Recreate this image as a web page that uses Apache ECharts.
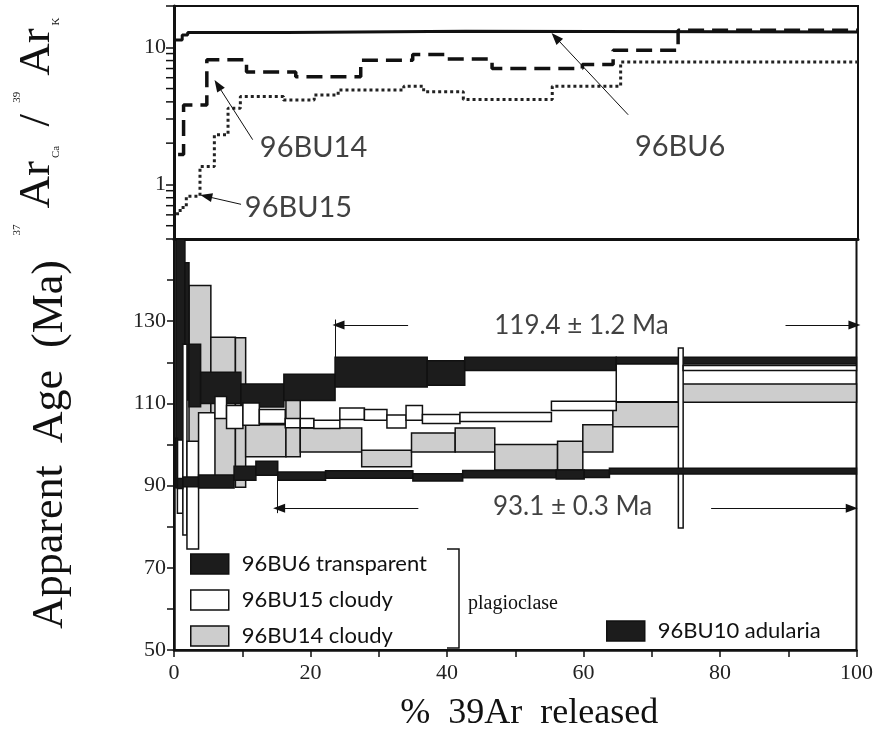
<!DOCTYPE html>
<html><head><meta charset="utf-8">
<script src="https://cdn.jsdelivr.net/npm/echarts@6/dist/echarts.min.js"></script>
<style>html,body{margin:0;padding:0;background:#fff}#c{width:876px;height:737px}</style>
</head><body><div id="c"></div>
<script>
// ---------- Top panel: 37ArCa/39ArK step spectra ----------
const bu6RatioCum = [0.2, 1.2, 2.0, 16.4, 42.6, 100];
const bu6Ratio    = [11.3, 12.3, 12.8, 13.1, 12.9];
const bu14RatioCum = [0.6, 1.4, 4.8, 10.6, 17.8, 27.3, 34.9, 39.8, 46.5, 59.7, 64.2, 73.7, 100];
const bu14Ratio    = [1.65, 3.8, 8.1, 6.6, 6.1, 8.05, 8.85, 8.2, 7.0, 7.5, 9.5, 13.3];
const bu15RatioCum = [0.3, 0.9, 1.8, 3.8, 5.9, 7.9, 9.7, 16.0, 20.5, 24.0, 33.6, 36.5, 42.3, 55.3, 65.3, 100];
const bu15Ratio    = [0.61, 0.68, 0.82, 1.35, 2.3, 3.6, 4.37, 4.13, 4.49, 4.88, 5.2, 4.74, 4.17, 5.2, 7.8];
const ratioMinorTicks = [0.5, 0.6, 0.7, 0.8, 0.9, 2, 3, 4, 5, 6, 7, 8, 9];
const ratioLabels = ['96BU14', '96BU15', '96BU6'];
const ratioLabelPos = [[20.4, 1.85], [18.2, 0.68], [74.0, 1.88]];
const ratioArrows = [[[11.5, 2.12], [6.4, 5.3]], [[9.8, 0.716], [4.7, 0.819]], [[66.4, 3.22], [55.8, 11.8]]];

// ---------- Bottom panel: age spectra (cumulative % 39Ar, age, ±err Ma) ----------
const bu6Cum = [0.3, 1.6, 2.2, 3.9, 9.8, 16.1, 23.6, 37.1, 42.6, 64.8, 100];
const bu6Age = [127, 127.5, 116.8, 113.8, 111.9, 113.9, 117.6, 117.4, 119.6, 120.4];
const bu6Err = [26, 16.7, 7.6, 3.8, 2.8, 3.2, 3.6, 3.0, 1.6, 0.8];

const bu15Cum = [0.5, 1.3, 1.9, 3.6, 6.0, 7.7, 10.1, 12.5, 16.3, 18.5, 20.5, 24.3, 27.9, 31.2, 34.0, 36.4, 41.9, 55.3, 64.8, 73.9, 74.6, 100];
const bu15Age = [92.2, 101.2, 87.7, 100.0, 109.0, 106.7, 107.4, 106.8, 105.2, 105.2, 104.9, 107.5, 107.2, 105.6, 107.7, 106.2, 106.7, 109.4, 115.0, 101.6, 118.6];
const bu15Err = [8.9, 23.2, 13.1, 7.7, 2.7, 2.8, 2.7, 1.7, 1.1, 1.1, 1.0, 1.4, 1.3, 1.6, 1.8, 1.1, 1.1, 1.1, 4.6, 21.9, 0.6];

const bu14Cum = [2.2, 5.4, 9.0, 10.5, 16.4, 18.5, 27.5, 34.8, 41.2, 47.0, 56.2, 59.9, 64.3, 74.0, 100];
const bu14Age = [119.6, 109.2, 107.8, 100.9, 103.9, 101.1, 96.6, 100.5, 101.1, 96.9, 97.3, 101.5, 107.3, 112.5];
const bu14Err = [19.1, 16.9, 18.2, 3.9, 6.9, 2.9, 2.0, 2.3, 2.9, 3.1, 3.5, 3.3, 3.0, 2.2];

const bu10Cum = [0.2, 0.5, 1.3, 3.6, 8.8, 12.0, 15.2, 22.2, 35.0, 42.3, 56.0, 60.1, 63.8, 100];
const bu10Age = [95.5, 90.5, 90.9, 91.0, 93.0, 94.2, 92.3, 92.7, 92.0, 92.8, 92.7, 92.9, 93.5];
const bu10Err = [6.0, 1.2, 1.2, 1.6, 1.7, 1.7, 1.0, 0.9, 0.9, 0.9, 1.1, 0.9, 0.7];

const plateauLabels = ['119.4 ± 1.2 Ma', '93.1 ± 0.3 Ma'];
const plateauLabelPos = [[59.7, 129.0], [58.4, 85.0]];
const plateauArrows = [[[34.3, 129.1], [24.1, 129.1]], [[89.6, 129.1], [99.7, 129.1]],
                       [[35.8, 84.5], [15.4, 84.5]], [[78.7, 84.5], [99.3, 84.5]]];
const plateauBounds = [[[23.6, 130.4], [23.6, 121.2]], [[15.1, 93.5], [15.1, 83.3]]];

const ageTicksLabelled = [50, 70, 90, 110, 130];
const xTicksLabelled = [0, 20, 40, 60, 80, 100];

// ---------- helpers ----------
function stepPoints(cum, vals) {
  const pts = vals.map((v, i) => [cum[i], v]);
  pts.push([cum[cum.length - 1], vals[vals.length - 1]]);
  return pts;
}
function boxes(cum, age, err) {
  return age.map((a, i) => [cum[i], cum[i + 1], a - err[i], a + err[i]]);
}
function boxRenderer(fill) {
  return function (params, api) {
    const a = api.coord([api.value(0), api.value(3)]);
    const b = api.coord([api.value(1), api.value(2)]);
    const cs = params.coordSys;
    const r = echarts.graphic.clipRectByRect(
      { x: a[0], y: a[1], width: b[0] - a[0], height: b[1] - a[1] },
      { x: cs.x, y: cs.y, width: cs.width, height: cs.height });
    if (!r) return null;
    return { type: 'rect', shape: r, style: { fill: fill, stroke: '#111', lineWidth: 1.5 } };
  };
}
const BLACK = '#1c1c1c', GRAY = '#cdcdcd', WHITE = '#ffffff';
const serif = 'Liberation Serif', sans = 'Lato';

function arrowLines(list, withArrow) {
  return list.map(p => [
    { coord: p[0], symbol: 'none' },
    { coord: p[1], symbol: withArrow ? 'triangle' : 'none' }
  ]);
}

const chart = echarts.init(document.getElementById('c'), null, { renderer: 'canvas' });
const option = {
  animation: false,
  backgroundColor: '#fff',
  grid: [
    { left: 174, right: 18, top: 6, height: 233, show: true, borderColor: '#111', borderWidth: 2 },
    { left: 174, right: 18, top: 239, height: 414, show: true, borderColor: '#111', borderWidth: 2 }
  ],
  xAxis: [
    { gridIndex: 0, type: 'value', min: 0, max: 100, interval: 10,
      axisLine: { show: true, lineStyle: { color: '#111', width: 3 } },
      axisTick: { show: false }, axisLabel: { show: false }, splitLine: { show: false } },
    { gridIndex: 1, type: 'value', min: 0, max: 100, interval: 10,
      name: '%  39Ar  released', nameLocation: 'middle', nameGap: 46,
      nameTextStyle: { fontFamily: serif, fontSize: 36, color: '#111', padding: [0, 0, 0, 28] },
      axisLine: { show: true, lineStyle: { color: '#111', width: 2.5 } },
      axisTick: { show: true, inside: false, length: 7, lineStyle: { color: '#111', width: 1.5 } },
      axisLabel: { fontFamily: serif, fontSize: 22, color: '#222', margin: 12,
        formatter: v => xTicksLabelled.includes(v) ? String(v) : '' },
      splitLine: { show: false } }
  ],
  yAxis: [
    { gridIndex: 0, type: 'log', logBase: 10, min: 0.4, max: 20,
      name: '{s|37}{a|Ar}{b|Ca}{a| / }{s|39}{a|Ar}{b|K}',
      nameLocation: 'middle', nameGap: 112, nameRotate: 90,
      nameTextStyle: { color: '#111', rich: {
        a: { fontFamily: serif, fontSize: 45, lineHeight: 50, color: '#111' },
        s: { fontFamily: serif, fontSize: 11, verticalAlign: 'top', lineHeight: 50, padding: [0, 16, 0, 0], color: '#111' },
        b: { fontFamily: serif, fontSize: 11, verticalAlign: 'bottom', lineHeight: 50, padding: [0, 8, 0, 3], color: '#111' } } },
      axisLine: { show: true, lineStyle: { color: '#111', width: 3 } },
      axisTick: { show: true, length: 8, lineStyle: { color: '#111', width: 1.5 } },
      axisLabel: { fontFamily: serif, fontSize: 22, color: '#222', margin: 8,
        formatter: v => (Math.abs(v - 1) < 1e-6 || Math.abs(v - 10) < 1e-6) ? String(Math.round(v)) : '' },
      splitLine: { show: false } },
    { gridIndex: 1, type: 'value', min: 50, max: 150, interval: 10,
      name: 'Apparent  Age  (Ma)', nameLocation: 'middle', nameGap: 102, nameRotate: 90,
      nameTextStyle: { fontFamily: serif, fontSize: 44, color: '#111' },
      axisLine: { show: true, lineStyle: { color: '#111', width: 2.5 } },
      axisTick: { show: true, length: 7, lineStyle: { color: '#111', width: 1.5 } },
      axisLabel: { fontFamily: serif, fontSize: 22, color: '#222', margin: 8,
        formatter: v => ageTicksLabelled.includes(v) ? String(v) : '' },
      splitLine: { show: false } }
  ],
  legend: [
    { orient: 'vertical', left: 190, top: 553, itemWidth: 38, itemHeight: 20, itemGap: 14,
      selectedMode: false, icon: 'rect', padding: 0,
      textStyle: { fontFamily: sans, fontSize: 22, lineHeight: 20, color: '#111', padding: [0, 0, 0, 8] },
      data: [
        { name: '96BU6 transparent', itemStyle: { color: BLACK, borderColor: '#111', borderWidth: 1.5 } },
        { name: '96BU15 cloudy', itemStyle: { color: WHITE, borderColor: '#111', borderWidth: 1.5 } },
        { name: '96BU14 cloudy', itemStyle: { color: GRAY, borderColor: '#111', borderWidth: 1.5 } }
      ] },
    { orient: 'vertical', left: 606, top: 620, itemWidth: 38, itemHeight: 20, padding: 0,
      selectedMode: false, icon: 'rect',
      textStyle: { fontFamily: sans, fontSize: 22, lineHeight: 20, color: '#111', padding: [0, 0, 0, 8] },
      data: [{ name: '96BU10 adularia', itemStyle: { color: BLACK, borderColor: '#111', borderWidth: 1.5 } }] }
  ],
  graphic: [
    { type: 'polyline', shape: { points: [[447, 549], [459, 549], [459, 648], [447, 648]] },
      style: { stroke: '#111', lineWidth: 1.5, fill: null } },
    { type: 'text', x: 468, y: 604, style: { text: 'plagioclase', font: '20px "Liberation Serif"', fill: '#111', verticalAlign: 'middle' } }
  ],
  series: [
    // ---- bottom panel boxes ----
    { name: '96BU14 cloudy', type: 'custom', xAxisIndex: 1, yAxisIndex: 1, z: 2,
      itemStyle: { color: GRAY }, renderItem: boxRenderer(GRAY),
      encode: { x: [0, 1], y: [2, 3] }, data: boxes(bu14Cum, bu14Age, bu14Err) },
    { name: '96BU6 transparent', type: 'custom', xAxisIndex: 1, yAxisIndex: 1, z: 3,
      itemStyle: { color: BLACK }, renderItem: boxRenderer(BLACK),
      encode: { x: [0, 1], y: [2, 3] }, data: boxes(bu6Cum, bu6Age, bu6Err) },
    { name: '96BU15 cloudy', type: 'custom', xAxisIndex: 1, yAxisIndex: 1, z: 4,
      itemStyle: { color: WHITE }, renderItem: boxRenderer(WHITE),
      encode: { x: [0, 1], y: [2, 3] }, data: boxes(bu15Cum, bu15Age, bu15Err) },
    { name: '96BU10 adularia', type: 'custom', xAxisIndex: 1, yAxisIndex: 1, z: 5,
      itemStyle: { color: BLACK }, renderItem: boxRenderer(BLACK),
      encode: { x: [0, 1], y: [2, 3] }, data: boxes(bu10Cum, bu10Age, bu10Err) },
    // ---- bottom annotations ----
    { name: 'plateau', type: 'scatter', xAxisIndex: 1, yAxisIndex: 1, z: 6, symbolSize: 0, silent: true,
      label: { show: true, position: 'inside', formatter: '{b}', fontFamily: sans, fontSize: 26, color: '#111' },
      data: plateauLabels.map((t, i) => ({ name: t, value: plateauLabelPos[i] })),
      markLine: { silent: true, symbolSize: [9, 12], label: { show: false },
        lineStyle: { color: '#111', width: 1, type: 'solid' },
        data: arrowLines(plateauArrows, true).concat(arrowLines(plateauBounds, false)) } },
    // ---- top panel step lines ----
    { name: 'r96BU6', type: 'line', xAxisIndex: 0, yAxisIndex: 0, step: 'end', symbol: 'none', clip: true,
      lineStyle: { color: '#111', width: 3 }, data: stepPoints(bu6RatioCum, bu6Ratio) },
    { name: 'r96BU14', type: 'line', xAxisIndex: 0, yAxisIndex: 0, step: 'end', symbol: 'none', clip: true,
      lineStyle: { color: '#111', width: 3.5, type: [16, 8] }, data: stepPoints(bu14RatioCum, bu14Ratio) },
    { name: 'r96BU15', type: 'line', xAxisIndex: 0, yAxisIndex: 0, step: 'end', symbol: 'none', clip: true,
      lineStyle: { color: '#222', width: 3, type: [3, 3] }, data: stepPoints(bu15RatioCum, bu15Ratio) },
    // ---- top annotations ----
    { name: 'ratioLabels', type: 'scatter', xAxisIndex: 0, yAxisIndex: 0, symbolSize: 0, silent: true,
      label: { show: true, position: 'inside', formatter: '{b}', fontFamily: sans, fontSize: 29, color: '#111' },
      data: ratioLabels.map((t, i) => ({ name: t, value: ratioLabelPos[i] })),
      markLine: { silent: true, symbolSize: [9, 12], label: { show: false },
        lineStyle: { color: '#111', width: 1, type: 'solid' },
        data: arrowLines(ratioArrows, true) } },
    // ---- minor log ticks on the ratio axis ----
    { name: 'minorTicks', type: 'custom', xAxisIndex: 0, yAxisIndex: 0, silent: true,
      encode: { x: 0, y: 1 },
      data: ratioMinorTicks.map(v => [0, v]),
      renderItem: (params, api) => {
        const p = api.coord([api.value(0), api.value(1)]);
        return { type: 'line', shape: { x1: p[0] - 8, y1: p[1], x2: p[0], y2: p[1] },
          style: { stroke: '#111', lineWidth: 1.5 } };
      } }
  ]
};
chart.setOption(option);
</script>
</body></html>
